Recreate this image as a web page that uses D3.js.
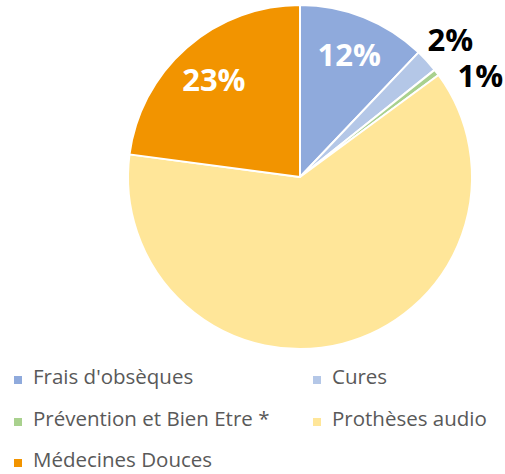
<!DOCTYPE html>
<html><head><meta charset="utf-8">
<script src="https://cdn.jsdelivr.net/npm/d3@7"></script>
<style>body{margin:0;background:#fff}svg{display:block}</style>
</head><body>
<svg id="c" width="505" height="474"></svg>
<script>
const categories = ["Frais d'obsèques", "Cures", "Prévention et Bien Etre *", "Prothèses audio", "Médecines Douces"];
const values = [12.1, 2.2, 0.6, 62.2, 22.9];
const colors = ["#8FAADC", "#B4C7E7", "#A9D18E", "#FFE699", "#F29400"];
const labelText = ["12%", "2%", "1%", "", "23%"];
const labelColor = ["#fff", "#000", "#000", "#000", "#fff"];

const svg = d3.select("#c");
const cx = 300, cy = 177, r = 172;
const data = categories.map((c, i) => ({c, v: values[i], i}));
const pie = d3.pie().value(d => d.v).sort(null);
const arcs = pie(data);
const arc = d3.arc().innerRadius(0).outerRadius(r);
const g = svg.append("g").attr("transform", `translate(${cx},${cy})`);
g.selectAll("path").data(arcs).join("path")
  .attr("d", arc).attr("fill", d => colors[d.data.i])
  .attr("stroke", "#fff").attr("stroke-width", 2).attr("stroke-linejoin", "round");

// label positions: inside for large, outside for small
const polar = (a, rr) => [Math.sin(a) * rr, -Math.cos(a) * rr];
const mid = d => (d.startAngle + d.endAngle) / 2;
const labelPos = [
  d => polar(mid(d), r * 0.77),
  d => polar(mid(d), r + 32),
  d => polar(mid(d) + 0.14, r + 35),
  d => polar(mid(d), r * 0.77),
  d => polar(mid(d), r * 0.76)
];
g.selectAll("text.lbl").data(arcs.filter(d => labelText[d.data.i])).join("text")
  .attr("class", "lbl")
  .attr("x", d => labelPos[d.data.i](d)[0])
  .attr("y", d => labelPos[d.data.i](d)[1])
  .attr("text-anchor", "middle").attr("dominant-baseline", "central")
  .attr("font-family", "'Open Sans', sans-serif").attr("font-weight", 700).attr("font-size", 31)
  .attr("fill", d => labelColor[d.data.i])
  .text(d => labelText[d.data.i]);

// legend
const lg = svg.append("g");
const colX = [14, 313], rowY = [384, 426, 467];
data.forEach((d, k) => {
  const x = colX[k % 2], y = rowY[Math.floor(k / 2)];
  lg.append("rect").attr("x", x).attr("y", y - 8).attr("width", 8).attr("height", 8).attr("fill", colors[k]);
  lg.append("text").attr("x", x + 19).attr("y", y)
    .attr("font-family", "'Open Sans', sans-serif").attr("font-size", 20.5).attr("fill", "#595959")
    .text(d.c);
});
</script>
</body></html>
